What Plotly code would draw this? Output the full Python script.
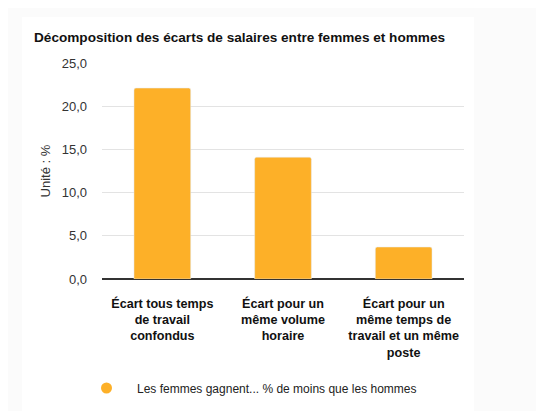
import plotly.graph_objects as go

# Données
categories = [
    "Écart tous temps<br>de travail<br>confondus",
    "Écart pour un<br>même volume<br>horaire",
    "Écart pour un<br>même temps de<br>travail et un même<br>poste",
]
ecarts = [22.1, 14.1, 3.7]
serie_nom = "Les femmes gagnent... % de moins que les hommes"
y_ticks = [0, 5, 10, 15, 20, 25]

ORANGE = "#fdb028"

# la page ajoute une marge de 8 px autour de la figure
OFF = 8
W, H = 544, 411
L, R, T, B = 102 - OFF, 80 + OFF, 63 - OFF, 132 + OFF
pw, ph = W - L - R, H - T - B


def px_x(x):
    return (x - OFF - L) / pw


def px_y(y):
    return 1 - (y - OFF - T) / ph


fig = go.Figure()

fig.add_trace(
    go.Bar(
        x=categories,
        y=ecarts,
        marker=dict(color=ORANGE, cornerradius=2),
        showlegend=False,
        hoverinfo="y",
    )
)

# trace vide juste pour avoir un rond dans la légende
fig.add_trace(
    go.Scatter(
        x=[None],
        y=[None],
        mode="markers",
        name=serie_nom,
        marker=dict(color=ORANGE, size=11, symbol="circle"),
    )
)

fig.update_layout(
    width=W,
    height=H,
    margin=dict(l=L, r=R, t=T, b=B),
    paper_bgcolor="#fbfbfb",
    plot_bgcolor="white",
    separators=",.",
    bargap=0.53,
    font=dict(family="Liberation Sans, Arial, sans-serif", color="#222"),
    title=dict(
        text="<b>Décomposition des écarts de salaires entre femmes et hommes</b>",
        x=(34 - OFF) / W,
        xref="container",
        xanchor="left",
        y=1 - (37 - OFF) / H,
        yref="container",
        yanchor="middle",
        font=dict(size=13.6, color="#111"),
    ),
    legend=dict(
        orientation="h",
        x=px_x(76),
        xanchor="left",
        y=px_y(388),
        yanchor="middle",
        font=dict(size=12, color="#222"),
        itemwidth=51,
        bgcolor="rgba(0,0,0,0)",
    ),
    shapes=[
        dict(
            type="rect",
            xref="paper",
            yref="paper",
            x0=px_x(22),
            x1=px_x(474),
            y0=px_y(H + 20),
            y1=px_y(17),
            fillcolor="white",
            line=dict(width=0),
            layer="below",
        )
    ],
)

fig.update_xaxes(
    tickfont=dict(size=12.6, color="#111", family="Liberation Sans, Arial, sans-serif"),
    tickprefix="<b>",
    ticksuffix="</b>",
    showgrid=False,
    showline=False,
    ticks="",
    ticklabelstandoff=15,
)

fig.update_yaxes(
    range=[0, 25],
    tickvals=y_ticks,
    tickformat=".1f",
    tickfont=dict(size=13, color="#333"),
    gridcolor="#e3e3e3",
    zeroline=True,
    zerolinecolor="#333",
    zerolinewidth=1.5,
    showline=False,
    ticks="",
    ticklabelstandoff=14,
    title=dict(text="Unité : %", font=dict(size=13, color="#333"), standoff=8),
)

fig.write_html("out.html")
